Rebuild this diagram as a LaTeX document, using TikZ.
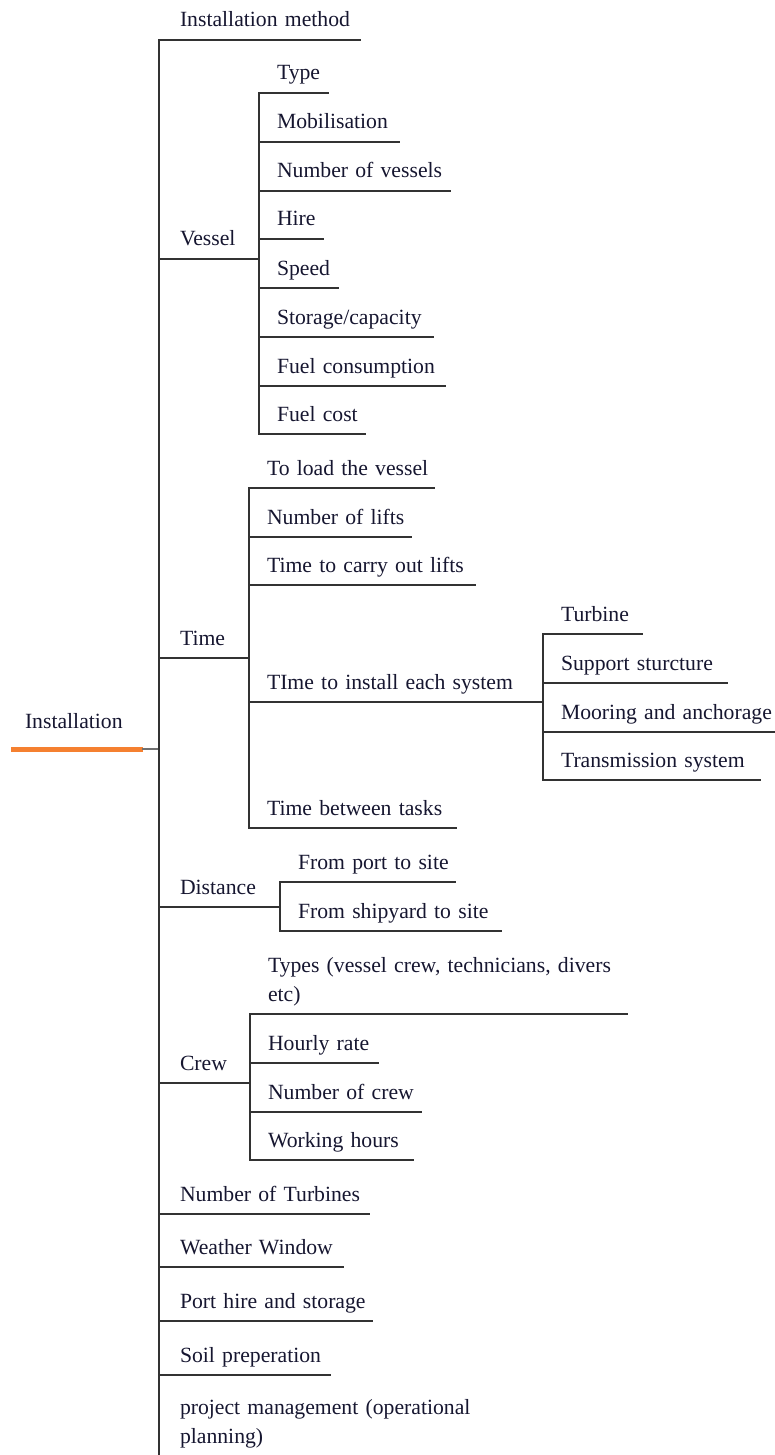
\documentclass[tikz,border=0pt]{standalone}
\usepackage{fontspec}
\setmainfont{Liberation Serif}
\usepackage{tikz}
\definecolor{ink}{RGB}{22,22,48}
\definecolor{rule}{RGB}{50,50,50}
\definecolor{accent}{RGB}{245,128,48}

\begin{document}
\begin{tikzpicture}[x=1pt, y=-1pt]
\tikzstyle{every node} = [font=\fontsize{21.7}{28.5}\selectfont, text=ink]
\tikzstyle{branch} = [anchor=south west, align=left, inner sep=0pt, outer sep=0pt, text height=16pt, text depth=13pt,
  execute at begin node={\leftskip=21pt\rightskip=-100pt plus 1fil\relax}]
\tikzstyle{leaf} = [branch, execute at begin node={\leftskip=18pt\relax}]
\tikzstyle{stem} = [draw=rule, line width=1.5pt, line cap=rect]

\useasboundingbox (0,0) rectangle (774,1455);

% root
\node[branch, text width=132pt, text depth=21pt, execute at begin node={\leftskip=14pt\relax}] (root) at (11,749) {Installation};

% first level
\node[branch, text width=201pt] (meth) at (159,40) {Installation method};
\node[branch, text width=100pt] (vessel) at (159,259) {Vessel};
\node[branch, text width=90pt] (time) at (159,658) {Time};
\node[branch, text width=121pt] (dist) at (159,907) {Distance};
\node[branch, text width=91pt] (crew) at (159,1083) {Crew};
\node[branch, text width=210pt] (nturb) at (159,1214) {Number of Turbines};
\node[branch, text width=184pt] (weather) at (159,1267) {Weather Window};
\node[branch, text width=213pt] (port) at (159,1321) {Port hire and storage};
\node[branch, text width=171pt] (soil) at (159,1375) {Soil preperation};
\node[branch, text width=330pt, text depth=41.5pt] (pm) at (159,1456) {project management (operational\\planning)};
\coordinate (trunkend) at (159,1455);

% vessel
\node[leaf, text width=69pt] (vtype) at (259,93) {Type};
\node[leaf, text width=140pt] (vmob) at (259,142) {Mobilisation};
\node[leaf, text width=191pt] (vnum) at (259,191) {Number of vessels};
\node[leaf, text width=64pt] (vhire) at (259,239) {Hire};
\node[leaf, text width=79pt] (vspeed) at (259,288) {Speed};
\node[leaf, text width=174pt] (vstore) at (259,337) {Storage/capacity};
\node[leaf, text width=186pt] (vfuel) at (259,386) {Fuel consumption};
\node[leaf, text width=106pt] (vcost) at (259,434) {Fuel cost};

% time
\node[leaf, text width=185pt] (tload) at (249,488) {To load the vessel};
\node[leaf, text width=162pt] (tlifts) at (249,537) {Number of lifts};
\node[leaf, text width=226pt] (tcarry) at (249,585) {Time to carry out lifts};
\node[leaf, text width=294pt] (tinst) at (249,702) {TIme to install each system};
\node[leaf, text width=207pt] (tbetw) at (249,828) {Time between tasks};

% each system
\node[leaf, text width=99pt] (sturb) at (543,634) {Turbine};
\node[leaf, text width=184pt] (ssupp) at (543,683) {Support sturcture};
\node[leaf, text width=231pt] (smoor) at (543,732) {Mooring and anchorage};
\node[leaf, text width=217pt] (strans) at (543,780) {Transmission system};

% distance
\node[leaf, text width=175pt] (dport) at (280,882) {From port to site};
\node[leaf, text width=221pt] (dship) at (280,931) {From shipyard to site};

% crew
\node[leaf, text width=377pt, text depth=41.5pt] (ctypes) at (250,1014) {Types (vessel crew, technicians, divers\\etc)};
\node[leaf, text width=128pt] (crate) at (250,1063) {Hourly rate};
\node[leaf, text width=171pt] (cnum) at (250,1112) {Number of crew};
\node[leaf, text width=163pt] (chours) at (250,1160) {Working hours};

% underlines
\foreach \n in {meth, vessel, time, dist, crew, nturb, weather, port, soil,
  vtype, vmob, vnum, vhire, vspeed, vstore, vfuel, vcost,
  tload, tlifts, tcarry, tinst, tbetw, sturb, ssupp, smoor, strans,
  dport, dship, ctypes, crate, cnum, chours}
  \draw[stem] (\n.south west) -- (\n.south east);
\draw[accent, line width=5pt] (root.south west) -- (root.south east);
\draw[stem, draw=rule!70] (root.south east) -- (root.south east -| meth.south west);

% verticals
\draw[stem] (meth.south west) -- (trunkend);
\draw[stem] (vtype.south west) -- (vcost.south west);
\draw[stem] (tload.south west) -- (tbetw.south west);
\draw[stem] (sturb.south west) -- (strans.south west);
\draw[stem] (dport.south west) -- (dship.south west);
\draw[stem] (ctypes.south west) -- (chours.south west);
\end{tikzpicture}
\end{document}
